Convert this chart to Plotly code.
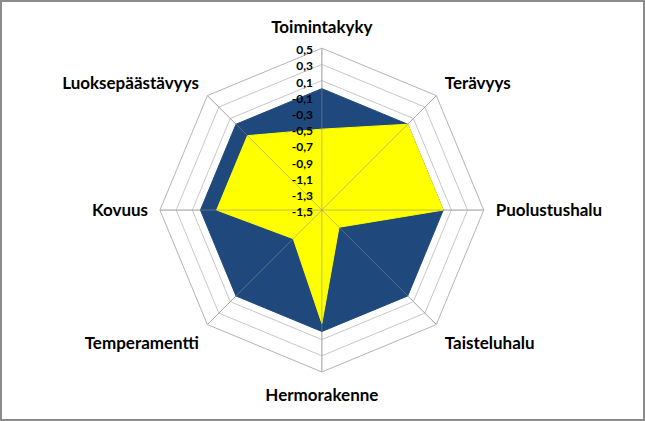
import plotly.graph_objects as go

categories = [
    "Toimintakyky",
    "Terävyys",
    "Puolustushalu",
    "Taisteluhalu",
    "Hermorakenne",
    "Temperamentti",
    "Kovuus",
    "Luoksepäästävyys",
]
baseline = [0.0, 0.0, 0.0, 0.0, 0.0, 0.0, 0.0, 0.0]
dog_values = [-0.5, 0.0, 0.0, -1.2, -0.1, -1.0, -0.2, -0.2]

radial_ticks = [-1.5, -1.3, -1.1, -0.9, -0.7, -0.5, -0.3, -0.1, 0.1, 0.3, 0.5]
radial_labels = ["-1,5", "-1,3", "-1,1", "-0,9", "-0,7", "-0,5", "-0,3", "-0,1", "0,1", "0,3", "0,5"]
r_min, r_max = -1.5, 0.5

BLUE = "#1F497D"
YELLOW = "#FFFF00"
FONT = "Lato"


def closed(vals):
    return list(vals) + [vals[0]]


fig = go.Figure()
fig.add_trace(
    go.Scatterpolar(
        r=closed(baseline),
        theta=closed(categories),
        fill="toself",
        fillcolor=BLUE,
        line=dict(color=BLUE, width=1),
        mode="lines",
        name="Keskiarvo",
        hoverinfo="skip",
    )
)
fig.add_trace(
    go.Scatterpolar(
        r=closed(dog_values),
        theta=closed(categories),
        fill="toself",
        fillcolor=YELLOW,
        line=dict(color=YELLOW, width=1),
        mode="lines",
        name="Koira",
        hoverinfo="skip",
    )
)

# spokes show faintly through the filled areas, like the Excel original
spoke_r, spoke_t = [], []
for c in categories:
    spoke_r += [r_min, r_max, None]
    spoke_t += [c, c, None]
fig.add_trace(
    go.Scatterpolar(
        r=spoke_r,
        theta=spoke_t,
        mode="lines",
        line=dict(color="rgba(140,140,140,0.55)", width=1),
        hoverinfo="skip",
        connectgaps=False,
    )
)

fig.update_layout(
    width=645,
    height=421,
    margin=dict(l=0, r=0, t=0, b=0),
    paper_bgcolor="white",
    plot_bgcolor="white",
    showlegend=False,
    polar=dict(
        domain=dict(x=[0.248, 0.750], y=[0.116, 0.886]),
        bgcolor="white",
        gridshape="linear",
        radialaxis=dict(
            range=[r_min, r_max],
            tickvals=radial_ticks,
            ticktext=radial_labels,
            angle=90,
            side="counterclockwise",
            showline=False,
            ticks="",
            gridcolor="#C8C8C8",
            gridwidth=1,
            tickfont=dict(family=FONT, size=12, color="black", weight="bold"),
        ),
        angularaxis=dict(
            direction="clockwise",
            rotation=90,
            linecolor="#B4B4B4",
            linewidth=1,
            gridcolor="#C8C8C8",
            ticks="outside",
            ticklen=8,
            tickcolor="rgba(0,0,0,0)",
            tickfont=dict(family=FONT, size=17, color="black", weight="bold"),
        ),
    ),
    shapes=[
        dict(
            type="rect",
            xref="paper",
            yref="paper",
            x0=0,
            y0=0,
            x1=1,
            y1=1,
            line=dict(color="#8C8C8C", width=4),
        )
    ],
)

fig.write_html(
    "out.html",
    config={"displayModeBar": False},
    post_script="document.body.style.margin='0';document.body.style.overflow='hidden';",
)
